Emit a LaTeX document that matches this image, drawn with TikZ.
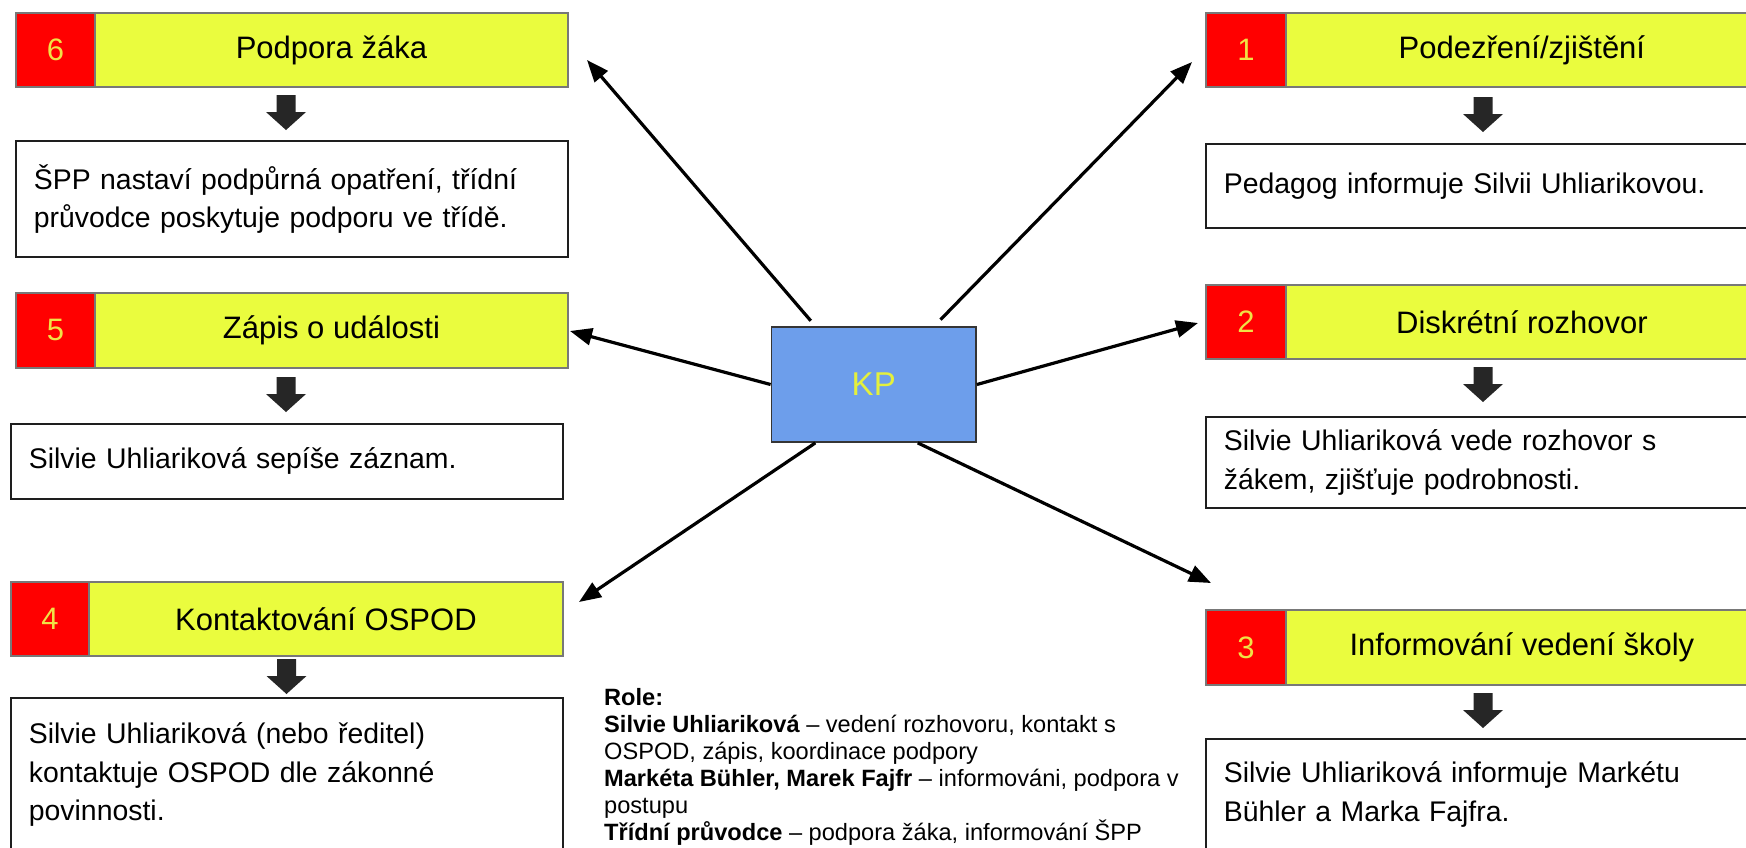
\documentclass[tikz,border=0pt]{standalone}
\usepackage{fontspec}
\setmainfont{Liberation Sans}
\usetikzlibrary{arrows.meta}
\definecolor{hy}{RGB}{234,252,62}
\definecolor{hred}{RGB}{255,0,0}
\definecolor{numy}{RGB}{240,226,70}
\definecolor{kpblue}{RGB}{109,158,235}
\definecolor{kptext}{RGB}{228,240,60}
\definecolor{hborder}{RGB}{120,120,120}
\definecolor{boxc}{RGB}{30,30,30}
\definecolor{arrowc}{RGB}{38,38,38}
\tikzset{
  numbox/.style={draw=hborder, line width=1.8pt, fill=hred, text=numy, anchor=north west,
    minimum height=74pt, inner sep=0pt, font=\fontsize{31}{37}\selectfont},
  headbox/.style={draw=hborder, line width=1.8pt, fill=hy, text=black, anchor=north west,
    minimum height=74pt, inner sep=0pt, font=\fontsize{31}{37}\selectfont},
  textbox/.style={draw=boxc, line width=1.8pt, fill=white, anchor=north west, align=left,
    inner xsep=18pt, inner ysep=0pt, text width=516pt, font=\fontsize{28.4}{38.5}\selectfont},
  kpbox/.style={draw=boxc!90, line width=1.8pt, fill=kpblue, text=kptext,
    minimum width=204.5pt, minimum height=115pt, inner sep=0pt, font=\fontsize{33}{40}\selectfont},
  conn/.style={draw=black, line width=3.2pt, -{Triangle[length=22pt,width=17pt]}},
  legend/.style={anchor=north west, align=left, inner sep=0pt, font=\fontsize{23.6}{27}\selectfont},
  downarrow/.pic={\fill[arrowc] (-9.5,0) -- (9.5,0) -- (9.5,17) -- (20,17) -- (0,35) -- (-20,17) -- (-9.5,17) -- cycle;}
}
\begin{document}
\begin{tikzpicture}[x=1pt,y=-1pt]
\useasboundingbox (0,0) rectangle (1746,847);
\clip (0,0) rectangle (1746,847);
\fill[white] (0,0) rectangle (1746,847);

% left column
\node[numbox, minimum width=79pt] (n6) at (15,12) {6};
\node[headbox, minimum width=473pt] (h6) at (94,12) {Podpora žáka};
\pic at (286,95) {downarrow};
\node[textbox, minimum height=116pt] (t6) at (15,140) {ŠPP nastaví podpůrná opatření, třídní\\průvodce poskytuje podporu ve třídě.};

\node[numbox, minimum width=79pt, minimum height=75pt] (n5) at (15,292) {5};
\node[headbox, minimum width=473pt, minimum height=75pt] (h5) at (94,292) {Zápis o události};
\pic at (286,377) {downarrow};
\node[textbox, minimum height=75pt] (t5) at (10,423) {Silvie Uhliariková sepíše záznam.};

\node[numbox, minimum width=78pt] (n4) at (10,581) {4};
\node[headbox, minimum width=474pt] (h4) at (88,581) {Kontaktování OSPOD};
\pic at (286.5,659) {downarrow};
\node[textbox, minimum height=154pt] (t4) at (10,697) {Silvie Uhliariková (nebo ředitel)\\kontaktuje OSPOD dle zákonné\\povinnosti.};

% right column
\node[numbox, minimum width=80pt] (n1) at (1205,12) {1};
\node[headbox, minimum width=472pt] (h1) at (1285,12) {Podezření/zjištění};
\pic at (1483,97) {downarrow};
\node[textbox, minimum height=84pt] (t1) at (1205,143) {Pedagog informuje Silvii Uhliarikovou.};

\node[numbox, minimum width=80pt] (n2) at (1205,284) {2};
\node[headbox, minimum width=472pt] (h2) at (1285,284) {Diskrétní rozhovor};
\pic at (1483,367) {downarrow};
\node[textbox, minimum height=91pt] (t2) at (1205,416) {Silvie Uhliariková vede rozhovor s\\žákem, zjišťuje podrobnosti.};

\node[numbox, minimum width=80pt, minimum height=75pt] (n3) at (1205,609) {3};
\node[headbox, minimum width=472pt, minimum height=75pt] (h3) at (1285,609) {Informování vedení školy};
\pic at (1483,693) {downarrow};
\node[textbox, minimum height=111pt] (t3) at (1205,738) {Silvie Uhliariková informuje Markétu\\Bühler a Marka Fajfra.};

% centre
\node[kpbox] (kp) at (873.75,384.5) {KP};

\coordinate (e6) at (587,60);
\coordinate (e1) at (1192,62);
\coordinate (e5) at (570,331);
\coordinate (e2) at (1198,323);
\coordinate (e4) at (579,602);
\coordinate (e3) at (1211,583);

\draw[conn, shorten <=7pt] (kp.135) -- (e6);
\draw[conn, shorten <=9pt] (kp.44) -- (e1);
\draw[conn] (kp.west) -- (e5);
\draw[conn] (kp.east) -- (e2);
\draw[conn] (kp.225) -- (e4);
\draw[conn] (kp.307) -- (e3);

% legend
\node[legend] (roles) at (604,688) {\textbf{Role:}\\
\textbf{Silvie Uhliariková} – vedení rozhovoru, kontakt s\\
OSPOD, zápis, koordinace podpory\\
\textbf{Markéta Bühler, Marek Fajfr} – informováni, podpora v\\
postupu\\
\textbf{Třídní průvodce} – podpora žáka, informování ŠPP};
\end{tikzpicture}
\end{document}
